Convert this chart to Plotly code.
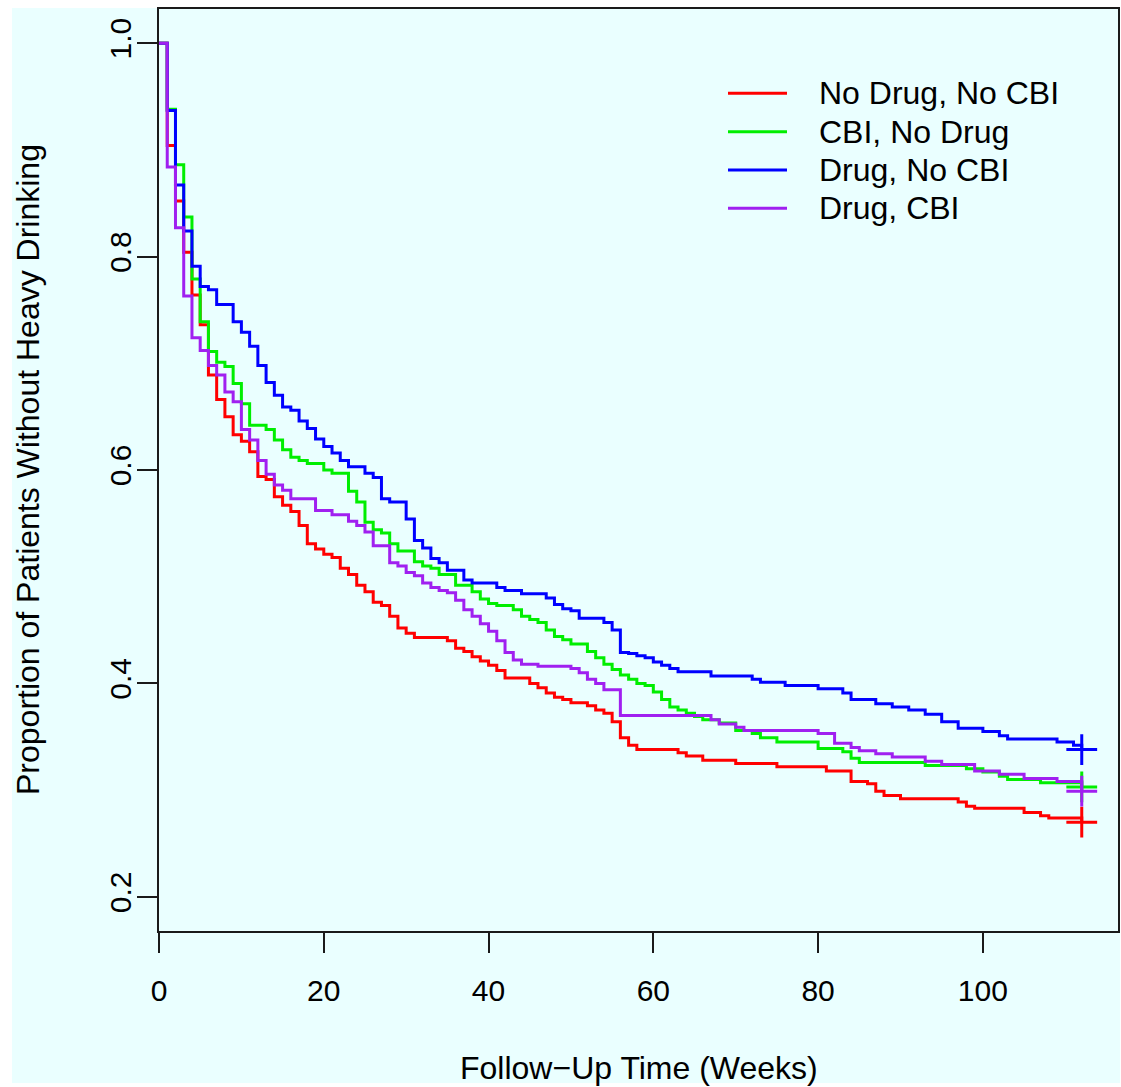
import plotly.graph_objects as go

# ---------------- data ----------------
series_names = ["No Drug, No CBI", "CBI, No Drug", "Drug, No CBI", "Drug, CBI"]
series_colors = ["#FF0000", "#00EE00", "#0000FF", "#A020F0"]

red_t = [0, 1, 2, 3, 4, 5, 6, 7, 8, 9, 10, 11, 12, 13, 14, 15, 16, 17, 18, 19, 20, 21, 22, 23, 24, 25,
         26, 27, 28, 29, 30, 31, 35, 36, 37, 38, 39, 40, 41, 42, 45, 46, 47, 48, 49, 50, 52, 53, 54, 55,
         56, 57, 58, 63, 64, 66, 70, 75, 81, 84, 86, 87, 88, 90, 97, 98, 99, 105, 107, 108, 112]
red_s = [1.000, 0.904, 0.852, 0.804, 0.764, 0.736, 0.689, 0.666, 0.650, 0.633, 0.627, 0.617, 0.594, 0.591,
         0.575, 0.567, 0.561, 0.548, 0.531, 0.526, 0.521, 0.518, 0.508, 0.502, 0.492, 0.486, 0.476, 0.473,
         0.463, 0.452, 0.447, 0.443, 0.440, 0.433, 0.430, 0.425, 0.421, 0.417, 0.412, 0.405, 0.400, 0.396,
         0.391, 0.387, 0.385, 0.382, 0.379, 0.375, 0.372, 0.364, 0.349, 0.342, 0.338, 0.335, 0.332, 0.328,
         0.325, 0.322, 0.318, 0.308, 0.306, 0.299, 0.295, 0.292, 0.289, 0.285, 0.283, 0.279, 0.276, 0.274,
         0.270]

green_t = [0, 1, 2, 3, 4, 5, 6, 7, 8, 9, 10, 11, 13, 14, 15, 16, 17, 18, 20, 21, 23, 24, 25, 26, 27, 28,
           29, 31, 32, 33, 34, 36, 38, 39, 40, 41, 43, 44, 45, 46, 47, 48, 49, 50, 52, 53, 54, 55, 56, 57,
           58, 59, 60, 61, 62, 63, 64, 65, 66, 68, 70, 72, 73, 75, 80, 83, 84, 85, 93, 98, 100, 102, 103,
           107, 112]
green_s = [1.000, 0.938, 0.886, 0.837, 0.779, 0.739, 0.711, 0.701, 0.697, 0.681, 0.662, 0.642, 0.638,
           0.628, 0.619, 0.612, 0.609, 0.606, 0.600, 0.597, 0.580, 0.570, 0.551, 0.544, 0.541, 0.531,
           0.524, 0.514, 0.510, 0.508, 0.502, 0.492, 0.486, 0.479, 0.475, 0.473, 0.469, 0.463, 0.460,
           0.457, 0.450, 0.444, 0.441, 0.437, 0.430, 0.424, 0.418, 0.413, 0.408, 0.404, 0.400, 0.398,
           0.392, 0.385, 0.378, 0.375, 0.372, 0.369, 0.366, 0.363, 0.356, 0.353, 0.349, 0.345, 0.339,
           0.336, 0.330, 0.326, 0.323, 0.320, 0.317, 0.313, 0.310, 0.307, 0.303]

blue_t = [0, 1, 2, 3, 4, 5, 6, 7, 9, 10, 11, 12, 13, 14, 15, 16, 17, 18, 19, 20, 21, 22, 23, 25, 26, 27,
          28, 30, 31, 32, 33, 34, 35, 37, 38, 41, 42, 44, 47, 48, 49, 50, 51, 54, 55, 56, 57, 58, 59, 60,
          61, 62, 63, 67, 72, 73, 76, 80, 83, 84, 87, 89, 91, 93, 95, 97, 100, 102, 103, 109, 111, 112]
blue_s = [1.000, 0.937, 0.867, 0.824, 0.791, 0.772, 0.769, 0.755, 0.739, 0.729, 0.716, 0.698, 0.682,
          0.670, 0.659, 0.656, 0.646, 0.639, 0.629, 0.622, 0.616, 0.609, 0.603, 0.597, 0.593, 0.573,
          0.570, 0.554, 0.534, 0.527, 0.517, 0.513, 0.506, 0.497, 0.494, 0.490, 0.487, 0.484, 0.480,
          0.474, 0.470, 0.468, 0.461, 0.457, 0.450, 0.429, 0.428, 0.426, 0.424, 0.420, 0.417, 0.414,
          0.411, 0.407, 0.404, 0.401, 0.398, 0.395, 0.391, 0.385, 0.381, 0.378, 0.375, 0.371, 0.364,
          0.358, 0.355, 0.351, 0.348, 0.345, 0.342, 0.338]

purple_t = [0, 1, 2, 3, 4, 5, 6, 7, 8, 9, 10, 11, 12, 13, 14, 15, 16, 19, 21, 23, 24, 25, 26, 28, 29, 30,
            31, 32, 33, 34, 35, 36, 37, 38, 39, 40, 41, 42, 43, 44, 46, 50, 51, 52, 53, 54, 56, 67, 68,
            70, 71, 80, 82, 84, 85, 87, 89, 93, 95, 99, 102, 105, 109, 112]
purple_s = [1.000, 0.884, 0.827, 0.763, 0.724, 0.712, 0.698, 0.689, 0.673, 0.664, 0.638, 0.628, 0.609,
            0.596, 0.586, 0.581, 0.573, 0.562, 0.558, 0.552, 0.548, 0.542, 0.529, 0.513, 0.510, 0.504,
            0.501, 0.494, 0.490, 0.487, 0.485, 0.478, 0.469, 0.463, 0.456, 0.449, 0.440, 0.429, 0.422,
            0.418, 0.416, 0.414, 0.410, 0.404, 0.400, 0.394, 0.370, 0.366, 0.362, 0.359, 0.356, 0.353,
            0.344, 0.340, 0.337, 0.334, 0.331, 0.327, 0.324, 0.318, 0.315, 0.311, 0.308, 0.299]

x_ticks = [0, 20, 40, 60, 80, 100]
y_ticks = [0.2, 0.4, 0.6, 0.8, 1.0]
y_tick_text = ["0.2", "0.4", "0.6", "0.8", "1.0"]
x_title = "Follow\u2212Up Time (Weeks)"
y_title = "Proportion of Patients Without Heavy Drinking"

# ---------------- layout geometry ----------------
W, H = 1121, 1087
ML, MR, MT, MB = 159, 3, 9, 156
PW, PH = W - ML - MR, H - MT - MB
BG = "#EAFFFF"
FONT = "Liberation Sans, Arial, Helvetica, sans-serif"
LW = 3


def px_x(px):
    return (px - ML) / PW


def px_y(py):
    return (H - MB - py) / PH


fig = go.Figure()

curves = [(red_t, red_s), (green_t, green_s), (blue_t, blue_s), (purple_t, purple_s)]
for (t, s), name, col in zip(curves, series_names, series_colors):
    fig.add_trace(go.Scatter(x=t, y=s, mode="lines", line=dict(color=col, width=LW, shape="hv"),
                             name=name, showlegend=False, hoverinfo="skip"))
    fig.add_trace(go.Scatter(x=[t[-1]], y=[s[-1]], mode="markers",
                             marker=dict(symbol="cross-thin", size=22, line=dict(color=col, width=LW)),
                             showlegend=False, hoverinfo="skip"))

# page background panel
fig.add_shape(type="rect", xref="paper", yref="paper", x0=px_x(12), x1=px_x(1120), y0=px_y(1083),
              y1=px_y(8), fillcolor=BG, line=dict(width=0), layer="below")

# legend (manual, R style)
leg_rows = [93.3, 131.7, 170.0, 208.3]
for name, col, ry in zip(series_names, series_colors, leg_rows):
    fig.add_shape(type="line", xref="paper", yref="paper", x0=px_x(728), x1=px_x(787), y0=px_y(ry),
                  y1=px_y(ry), line=dict(color=col, width=LW))
    fig.add_annotation(xref="paper", yref="paper", x=px_x(817), y=px_y(ry), text=name, showarrow=False,
                       xanchor="left", yanchor="middle", font=dict(family=FONT, size=32, color="black"))

# axis titles
fig.add_annotation(xref="paper", yref="paper", x=0.5, y=px_y(1068), text=x_title, showarrow=False,
                   xanchor="center", yanchor="middle", font=dict(family=FONT, size=32, color="black"))
fig.add_annotation(xref="paper", yref="paper", x=px_x(28), y=0.5, text=y_title, showarrow=False,
                   textangle=-90, xanchor="center", yanchor="middle",
                   font=dict(family=FONT, size=32, color="black"))

axis_common = dict(showline=True, mirror=True, linecolor="#1a1a1a", linewidth=2, ticks="outside",
                   ticklen=20, tickwidth=2, tickcolor="#1a1a1a", showgrid=False, zeroline=False,
                   tickfont=dict(family=FONT, size=30, color="black"))

fig.update_layout(
    width=W, height=H,
    margin=dict(l=ML, r=MR, t=MT, b=MB, autoexpand=False),
    paper_bgcolor="white", plot_bgcolor="rgba(0,0,0,0)",
    showlegend=False,
    xaxis=dict(range=[0, 116.4], tickvals=x_ticks, ticklabelstandoff=12, **axis_common),
    yaxis=dict(range=[0.168, 1.032], tickvals=y_ticks, ticktext=y_tick_text, tickangle=-90,
               ticklabelstandoff=-6, **axis_common),
)

fig.write_html("out.html", config={"displayModeBar": False},
               post_script="document.body.style.margin='0px';")
